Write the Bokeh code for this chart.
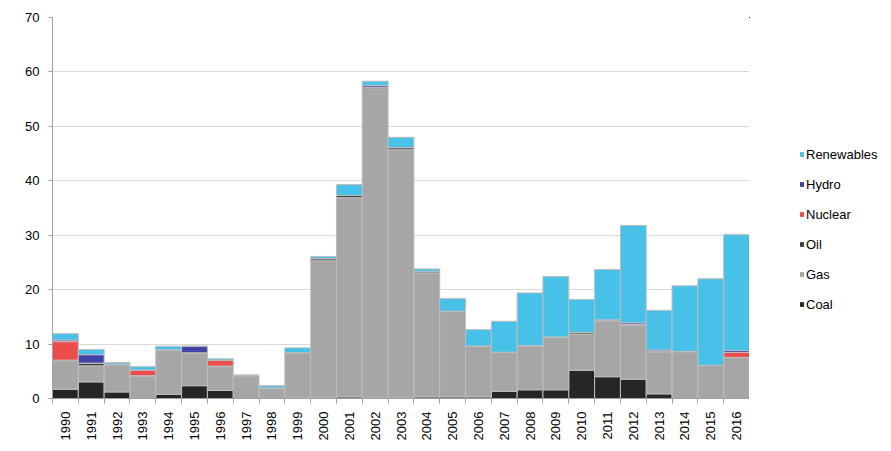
import math
from bokeh.plotting import figure
from bokeh.layouts import row
from bokeh.models import ColumnDataSource, FixedTicker, Legend, LegendItem, Range1d
from bokeh.embed import file_html
from bokeh.resources import INLINE

years = [str(y) for y in range(1990, 2017)]
coal = [1.7, 3.05, 1.2, 0.0, 0.75, 2.35, 1.47, 0.0, 0.0, 0.1,
        0.1, 0.3, 0.1, 0.1, 0.3, 0.3, 0.3, 1.3, 1.6, 1.6,
        5.2, 4.0, 3.55, 0.85, 0.0, 0.0, 0.0]
gas = [5.25, 2.95, 5.0, 4.15, 8.1, 5.95, 4.38, 4.1, 1.95, 8.2,
       25.2, 36.6, 56.8, 45.6, 22.7, 15.7, 9.3, 7.15, 8.05, 9.65,
       6.65, 10.2, 9.85, 7.65, 8.6, 6.1, 7.5]
oil = [0.1, 0.5, 0.1, 0.05, 0.1, 0.1, 0.1, 0.15, 0.0, 0.1,
       0.4, 0.4, 0.3, 0.4, 0.3, 0.05, 0.05, 0.05, 0.05, 0.05,
       0.3, 0.25, 0.2, 0.2, 0.05, 0.0, 0.05]
nuclear = [3.4, 0.0, 0.0, 1.05, 0.0, 0.0, 1.1, 0.0, 0.0, 0.0,
           0.0, 0.0, 0.0, 0.0, 0.0, 0.0, 0.0, 0.0, 0.0, 0.0,
           0.0, 0.0, 0.0, 0.0, 0.0, 0.0, 0.9]
hydro = [0.3, 1.55, 0.0, 0.0, 0.0, 1.2, 0.0, 0.0, 0.0, 0.0,
         0.0, 0.0, 0.3, 0.0, 0.0, 0.0, 0.0, 0.0, 0.0, 0.0,
         0.0, 0.0, 0.3, 0.2, 0.0, 0.0, 0.35]
renewables = [1.15, 0.95, 0.3, 0.6, 0.65, 0.0, 0.25, 0.0, 0.4, 0.9,
              0.4, 2.0, 0.8, 1.9, 0.5, 2.3, 3.0, 5.7, 9.7, 11.1,
              6.05, 9.25, 17.9, 7.3, 12.05, 15.9, 21.3]

series = ["coal", "gas", "oil", "nuclear", "hydro", "renewables"]
labels = ["Coal", "Gas", "Oil", "Nuclear", "Hydro", "Renewables"]
colors = ["#262626", "#A6A6A6", "#404040", "#EE4B4B", "#3F44A6", "#48C1E8"]
yticks = list(range(0, 71, 10))

x = list(range(len(years)))
source = ColumnDataSource(dict(x=x, coal=coal, gas=gas, oil=oil, nuclear=nuclear,
                               hydro=hydro, renewables=renewables))

p = figure(width=749, height=443, x_range=Range1d(-0.5, len(years) - 0.5),
           y_range=Range1d(0, 70), output_backend="svg", toolbar_location=None,
           min_border_left=52, min_border_right=0, min_border_top=17,
           min_border_bottom=44)
p.outline_line_color = None

rs = p.vbar_stack(series, x="x", width=1.0, fill_color=colors, line_color="#BDBDBD",
                  line_width=1, source=source)

font = "Liberation Sans"
p.xaxis.ticker = FixedTicker(ticks=x, minor_ticks=[i - 0.5 for i in range(len(years) + 1)])
p.xaxis.major_label_overrides = {i: years[i] for i in x}
p.xaxis.major_label_orientation = math.pi / 2
p.xaxis.major_tick_out = 0
p.xaxis.major_tick_in = 0
p.xaxis.minor_tick_out = 5
p.xaxis.minor_tick_in = 0
p.xaxis.minor_tick_line_color = "#A0A0A0"
p.xaxis.axis_line_color = "#A0A0A0"
p.xaxis.major_label_standoff = 8
p.xaxis.major_label_text_font = font
p.xaxis.major_label_text_font_size = "13px"
p.xaxis.major_label_text_color = "#000000"
p.xgrid.grid_line_color = None

p.yaxis.ticker = FixedTicker(ticks=yticks)
p.yaxis.major_tick_out = 4
p.yaxis.major_tick_in = 0
p.yaxis.minor_tick_line_color = None
p.yaxis.axis_line_color = "#A0A0A0"
p.yaxis.major_tick_line_color = "#A0A0A0"
p.yaxis.major_label_standoff = 9
p.yaxis.major_label_text_font = font
p.yaxis.major_label_text_font_size = "13px"
p.yaxis.major_label_text_color = "#000000"
p.ygrid.grid_line_color = "#D9D9D9"
p.ygrid.grid_line_width = 1

# legend panel (its proxy bars sit outside the visible range)
lg = figure(width=140, height=435, x_range=Range1d(30, 31), y_range=Range1d(-2, -1),
            output_backend="svg", toolbar_location=None,
            x_axis_location=None, y_axis_location=None,
            min_border_left=0, min_border_right=0, min_border_top=0, min_border_bottom=0)
lg.grid.grid_line_color = None
lg.outline_line_color = None
items = []
for i in reversed(range(len(series))):
    r = lg.vbar(x="x", top=series[i], width=0.5, fill_color=colors[i],
                line_color=None, source=source)
    items.append(LegendItem(label=labels[i], renderers=[r]))
legend = Legend(items=items, location=(50, 76), padding=0, margin=0,
                glyph_width=5, glyph_height=6, label_standoff=2, spacing=10,
                label_height=20, label_text_font=font, label_text_font_size="13px",
                label_text_color="#000000",
                border_line_color=None, background_fill_alpha=0)
lg.add_layout(legend)

layout = row(p, lg, spacing=0)
open("out.html", "w").write(file_html(layout, INLINE))
